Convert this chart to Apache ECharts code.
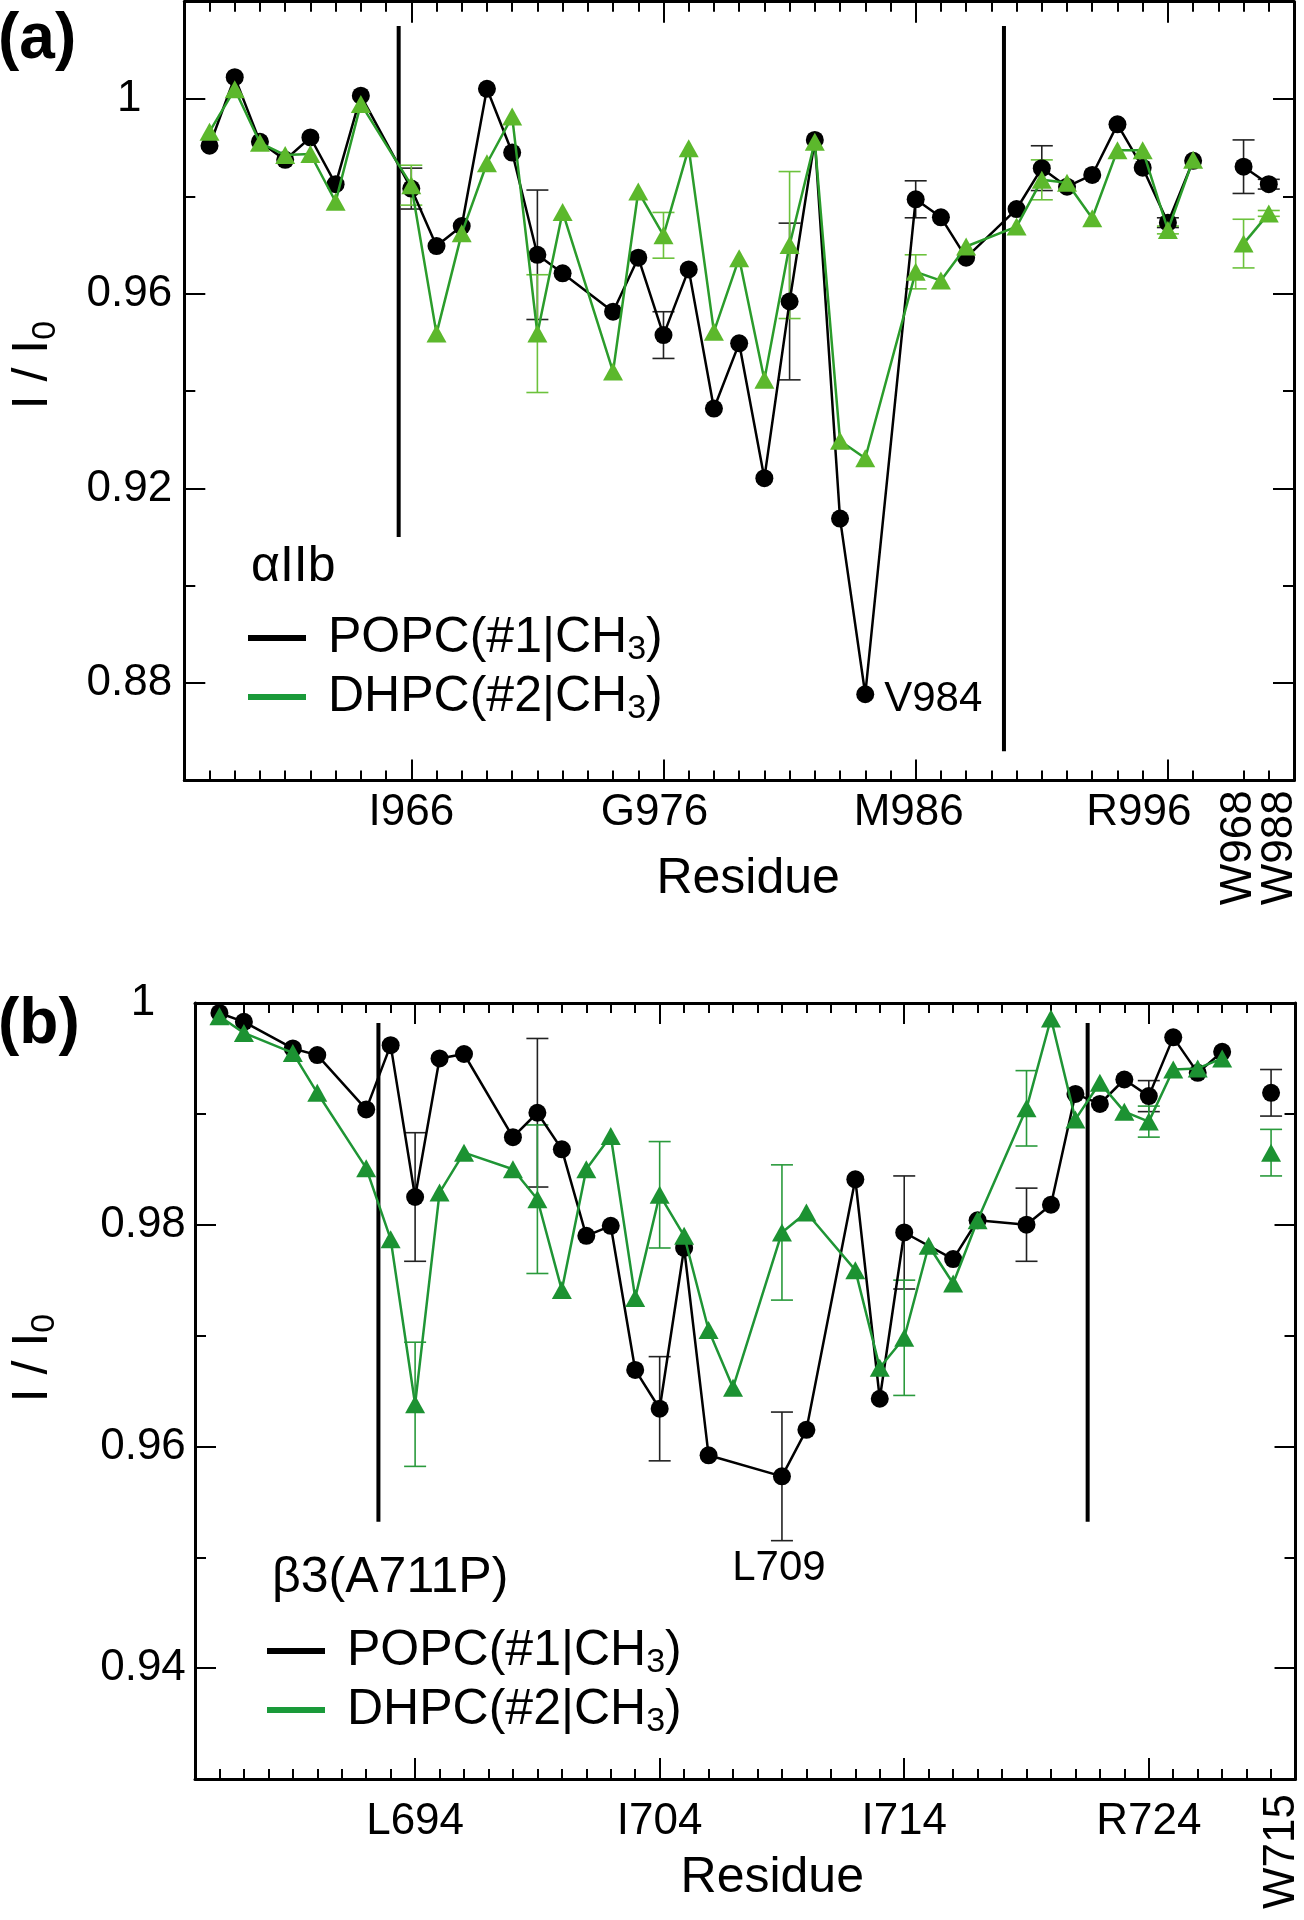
<!DOCTYPE html>
<html><head><meta charset="utf-8">
<script src="https://cdn.jsdelivr.net/npm/echarts@6/dist/echarts.min.js"></script>
<style>html,body{margin:0;padding:0;background:#fff}#c{width:1304px;height:1920px}</style>
</head><body><div id="c"></div>
<script>
// ---------------- DATA ----------------
const seriesNames = ['POPC(#1|CH3)', 'DHPC(#2|CH3)'];

// Panel (a): alphaIIb
const aResidues = [958,959,960,961,962,963,964,966,967,968,969,970,971,972,974,975,976,977,978,979,980,981,982,983,984,986,987,988,990,991,992,993,994,995,996,997];
const aPOPC = [0.9904,1.0045,0.9912,0.9875,0.9921,0.9825,1.0007,0.9816,0.9698,0.9739,1.0021,0.9890,0.9680,0.9642,0.9563,0.9674,0.9515,0.9650,0.9364,0.9498,0.9221,0.9584,0.9916,0.9138,0.8777,0.9794,0.9757,0.9674,0.9774,0.9858,0.9820,0.9844,0.9948,0.9859,0.9746,0.9873];
const aDHPC = [0.9933,1.0020,0.9910,0.9885,0.9887,0.9789,0.9990,0.9823,0.9518,0.9724,0.9868,0.9964,0.9518,0.9768,0.9440,0.9810,0.9720,0.9899,0.9522,0.9673,0.9423,0.9700,0.9912,0.9298,0.9262,0.9645,0.9627,0.9697,0.9738,0.9834,0.9828,0.9755,0.9895,0.9895,0.9731,0.9875];
const aTrpResidues = [999, 1000];
const aTrpNames = ['W968', 'W988'];
const aTrpPOPC = [0.9861, 0.9825];
const aTrpDHPC = [0.9703, 0.9765];
const aErrResidues = [966, 971, 976, 981, 986, 991, 996, 999, 1000];
const aErrPOPC = [0.0042, 0.0133, 0.0048, 0.0161, 0.0038, 0.0046, 0.0010, 0.0055, 0.0010];
const aErrDHPC = [0.0041, 0.0121, 0.0047, 0.0151, 0.0035, 0.0041, 0.0008, 0.0050, 0.0006];
const aTickValues = [966, 976, 986, 996];
const aTickNames = ['I966', 'G976', 'M986', 'R996'];
const aYMajor = [0.88, 0.92, 0.96, 1.00];
const aYMinor = [0.90, 0.94, 0.98];
const aTMLines = [[965.5, 1.015, 0.910], [989.5, 1.015, 0.866]];
const aAnnotation = {residue: 984, text: 'V984'};

// Panel (b): beta3(A711P)
const bResPOPC = [686,687,689,690,692,693,694,695,696,698,699,700,701,702,703,704,705,706,709,710,712,713,714,716,717,719,720,721,722,723,724,725,726,727];
const bPOPC = [0.9991,0.9983,0.9959,0.9953,0.9904,0.9962,0.9825,0.9950,0.9954,0.9879,0.9901,0.9868,0.9790,0.9799,0.9669,0.9634,0.9779,0.9592,0.9573,0.9615,0.9841,0.9643,0.9793,0.9769,0.9804,0.9800,0.9818,0.9918,0.9909,0.9931,0.9916,0.9969,0.9937,0.9956];
const bResDHPC = [686,687,689,690,692,693,694,695,696,698,699,700,701,702,703,704,705,706,707,709,710,712,713,714,715,716,717,719,720,721,722,723,724,725,726,727];
const bDHPC = [0.9988,0.9973,0.9955,0.9919,0.9851,0.9787,0.9638,0.9829,0.9865,0.9850,0.9823,0.9741,0.9850,0.9880,0.9734,0.9827,0.9790,0.9705,0.9653,0.9793,0.9811,0.9759,0.9671,0.9698,0.9781,0.9747,0.9804,0.9905,0.9986,0.9895,0.9928,0.9902,0.9893,0.9940,0.9941,0.9950];
const bTrpResidues = [729];
const bTrpNames = ['W715'];
const bTrpPOPC = [0.9919];
const bTrpDHPC = [0.9865];
const bErrResidues = [694, 699, 704, 709, 714, 719, 724, 729];
const bErrPOPC = [0.0058, 0.0067, 0.0047, 0.0058, 0.0051, 0.0033, 0.0014, 0.0021];
const bErrDHPC = [0.0056, 0.0067, 0.0048, 0.0061, 0.0052, 0.0034, 0.0014, 0.0021];
const bTickValues = [694, 704, 714, 724];
const bTickNames = ['L694', 'I704', 'I714', 'R724'];
const bYMajor = [0.94, 0.96, 0.98, 1.00];
const bYMinor = [0.95, 0.97, 0.99];
const bTMLines = [[692.5, 0.9982, 0.9532], [721.5, 0.9982, 0.9532]];
const bAnnotation = {residue: 709, text: 'L709'};

// ---------------- BUILD ----------------
const FONT = "'Liberation Sans', Arial, Helvetica, sans-serif";
const SUB = {s: {fontSize: 34, padding: [24, 0, 0, 0], fontFamily: FONT, color: '#000'}};
const sub = t => t.replace('CH3', 'CH{s|3}');

const panels = [
  {grid: {left: 184.3, top: 1.7, width: 1109.7, height: 778.7},
   xMin: 957, xMax: 1001, yMin: 0.86, yMax: 1.02, xSkipBottom: [998],
   res: [aResidues, aResidues], vals: [aPOPC, aDHPC],
   trpRes: aTrpResidues, trpNames: aTrpNames, trpVals: [aTrpPOPC, aTrpDHPC],
   trpLabelPad: [[0, 0, 10, 0], [22, 0, 0, 0]],
   tickLabelPadRight: [0, 18, 14, 58],
   errRes: aErrResidues, errs: [aErrPOPC, aErrDHPC],
   ticks: aTickValues, tickNames: aTickNames, yMajor: aYMajor, yMinor: aYMinor,
   tm: aTMLines, annot: aAnnotation,
   annotLabel: {position: 'right', distance: 10, offset: [0, 5]},
   xLabelMargin: 10, trpLabelMargin: 10, yLabelMargin: 55,
   nameGapX: 74, xNamePad: [0, 0, 0, 18], nameGapY: 122, yNamePad: [0, 0, 0, 52],
   green: {line: '#2b9c2b', mark: '#5cb82c', err: '#6cc23c'},
   header: 'αIIb', headerPos: {left: 251, top: 542}, legendPos: {left: 248, top: 609},
   tag: '(a)', tagPos: {left: -2, top: 8}},
  {grid: {left: 191.7, top: 1003, width: 1106.3, height: 776},
   xMin: 685, xMax: 730, yMin: 0.93, yMax: 1.0, xSkipBottom: [],
   res: [bResPOPC, bResDHPC], vals: [bPOPC, bDHPC],
   trpRes: bTrpResidues, trpNames: bTrpNames, trpVals: [bTrpPOPC, bTrpDHPC],
   trpLabelPad: [[22, 0, 0, 0]],
   tickLabelPadRight: [0, 0, 0, 0],
   errRes: bErrResidues, errs: [bErrPOPC, bErrDHPC],
   ticks: bTickValues, tickNames: bTickNames, yMajor: bYMajor, yMinor: bYMinor,
   tm: bTMLines, annot: bAnnotation,
   annotLabel: {position: 'bottom', distance: 62, offset: [-3, 0]},
   xLabelMargin: 21, trpLabelMargin: 15, yLabelMargin: 52,
   nameGapX: 74, xNamePad: [0, 0, 0, 54], nameGapY: 133, yNamePad: [0, 0, 0, 66],
   green: {line: '#1f9535', mark: '#1c9232', err: '#2a9a3c'},
   header: 'β3(A711P)', headerPos: {left: 272, top: 1553}, legendPos: {left: 267, top: 1622},
   tag: '(b)', tagPos: {left: -2, top: 993}}
];

const grids = [], xAxes = [], yAxes = [], series = [], titles = [], legends = [];
const close = (a, b) => Math.abs(a - b) < 1e-6;
const yFmt = v => close(v, 1) ? '1' : v.toFixed(2);

panels.forEach((p, gi) => {
  grids.push(Object.assign({containLabel: false}, p.grid));
  const minorX = [];
  for (let v = p.xMin + 1; v < p.xMax; v++) minorX.push(v);
  const minorXBottom = minorX.filter(v => !p.xSkipBottom.includes(v));
  const xb = {gridIndex: gi, type: 'value', min: p.xMin, max: p.xMax, splitLine: {show: false}};
  const line = {show: true, onZero: false, lineStyle: {color: '#000', width: 3}};
  const noLine = {show: false};
  const tickStyle = {color: '#000', width: 2};
  const tickRich = {};
  p.tickNames.forEach((n, i) => {
    tickRich['t' + i] = {fontSize: 44, fontFamily: FONT, color: '#000', padding: [0, p.tickLabelPadRight[i], 0, 0]};
  });
  const xi = xAxes.length;
  xAxes.push(Object.assign({}, xb, {position: 'bottom', axisLine: line,
    axisTick: {show: true, inside: true, length: 10, lineStyle: tickStyle, customValues: minorXBottom},
    axisLabel: {show: true, customValues: p.ticks,
      formatter: v => { const i = p.ticks.findIndex(t => close(t, v)); return i < 0 ? '' : '{t' + i + '|' + p.tickNames[i] + '}'; },
      rich: tickRich, fontSize: 44, fontFamily: FONT, color: '#000', margin: p.xLabelMargin},
    name: 'Residue', nameLocation: 'middle', nameGap: p.nameGapX,
    nameTextStyle: {fontSize: 50, fontFamily: FONT, color: '#000', padding: p.xNamePad}}));
  xAxes.push(Object.assign({}, xb, {position: 'bottom', axisLine: noLine,
    axisTick: {show: true, inside: true, length: 21, lineStyle: tickStyle, customValues: p.ticks},
    axisLabel: {show: false}}));
  // one axis per rotated Trp label so neighbouring labels are never hidden as overlaps
  p.trpRes.forEach((r, i) => {
    xAxes.push(Object.assign({}, xb, {position: 'bottom', axisLine: noLine, axisTick: {show: false},
      axisLabel: {show: true, customValues: [r], formatter: () => '{w|' + p.trpNames[i] + '}', rotate: 90,
        rich: {w: {fontSize: 44, fontFamily: FONT, color: '#000', padding: p.trpLabelPad[i]}},
        fontSize: 44, fontFamily: FONT, color: '#000', margin: p.trpLabelMargin}}));
  });
  xAxes.push(Object.assign({}, xb, {position: 'top', axisLine: line,
    axisTick: {show: true, inside: true, length: 10, lineStyle: tickStyle, customValues: minorX},
    axisLabel: {show: false}}));
  xAxes.push(Object.assign({}, xb, {position: 'top', axisLine: noLine,
    axisTick: {show: true, inside: true, length: 21, lineStyle: tickStyle, customValues: p.ticks},
    axisLabel: {show: false}}));

  const yb = {gridIndex: gi, type: 'value', min: p.yMin, max: p.yMax, splitLine: {show: false}};
  const yi = yAxes.length;
  yAxes.push(Object.assign({}, yb, {position: 'left', axisLine: line,
    axisTick: {show: true, inside: true, length: 21, lineStyle: tickStyle, customValues: p.yMajor},
    axisLabel: {show: true, customValues: p.yMajor, formatter: yFmt, align: 'center',
      fontSize: 44, fontFamily: FONT, color: '#000', margin: p.yLabelMargin},
    name: 'I / I{s|0}', nameLocation: 'middle', nameGap: p.nameGapY,
    nameTextStyle: {fontSize: 50, fontFamily: FONT, color: '#000', padding: p.yNamePad, rich: SUB}}));
  yAxes.push(Object.assign({}, yb, {position: 'left', axisLine: noLine,
    axisTick: {show: true, inside: true, length: 11, lineStyle: tickStyle, customValues: p.yMinor},
    axisLabel: {show: false}}));
  yAxes.push(Object.assign({}, yb, {position: 'right', axisLine: line,
    axisTick: {show: true, inside: true, length: 21, lineStyle: tickStyle, customValues: p.yMajor},
    axisLabel: {show: false}}));
  yAxes.push(Object.assign({}, yb, {position: 'right', axisLine: noLine,
    axisTick: {show: true, inside: true, length: 11, lineStyle: tickStyle, customValues: p.yMinor},
    axisLabel: {show: false}}));

  // TM boundary lines
  p.tm.forEach(t => series.push({type: 'line', xAxisIndex: xi, yAxisIndex: yi, silent: true, symbol: 'none', z: 1,
    data: [[t[0], t[1]], [t[0], t[2]]], lineStyle: {color: '#000', width: 4}}));

  const colors = [{line: '#000', mark: '#000', err: '#222'}, p.green];
  const symbols = ['circle', 'triangle'];
  const sizes = [18, [20, 18]];
  [0, 1].forEach(k => {
    const res = p.res[k], vals = p.vals[k];
    const data = res.map((r, i) => {
      if (k === 0 && r === p.annot.residue) {
        return {value: [r, vals[i]], label: Object.assign({show: true, formatter: p.annot.text,
          fontSize: 42, fontFamily: FONT, color: '#000'}, p.annotLabel)};
      }
      return [r, vals[i]];
    });
    const common = {xAxisIndex: xi, yAxisIndex: yi, name: seriesNames[k], symbol: symbols[k], symbolSize: sizes[k],
      itemStyle: {color: colors[k].mark}, lineStyle: {color: colors[k].line, width: 2.5}, z: 3 + k};
    series.push(Object.assign({type: 'line', data: data}, common));
    series.push(Object.assign({type: 'line', data: p.trpRes.map((r, i) => [r, p.trpVals[k][i]])}, common));
    // error bars
    const lookup = r => {
      const i = res.indexOf(r);
      if (i >= 0) return vals[i];
      return p.trpVals[k][p.trpRes.indexOf(r)];
    };
    const errColor = colors[k].err;
    series.push({type: 'custom', name: seriesNames[k], xAxisIndex: xi, yAxisIndex: yi, z: 2 + k, silent: true,
      data: p.errRes.map((r, i) => [r, lookup(r), p.errs[k][i]]),
      renderItem: (params, api) => {
        const x = api.value(0), y = api.value(1), e = api.value(2);
        const hi = api.coord([x, y + e]), lo = api.coord([x, y - e]);
        const cw = 11, st = {stroke: errColor, lineWidth: 1.6};
        return {type: 'group', children: [
          {type: 'line', shape: {x1: hi[0], y1: hi[1], x2: lo[0], y2: lo[1]}, style: st},
          {type: 'line', shape: {x1: hi[0] - cw, y1: hi[1], x2: hi[0] + cw, y2: hi[1]}, style: st},
          {type: 'line', shape: {x1: lo[0] - cw, y1: lo[1], x2: lo[0] + cw, y2: lo[1]}, style: st}
        ]};
      }});
  });

  titles.push({text: p.header, left: p.headerPos.left, top: p.headerPos.top, padding: 0,
    textStyle: {fontSize: 50, fontWeight: 'normal', fontFamily: FONT, color: '#000'}});
  titles.push({text: p.tag, left: p.tagPos.left, top: p.tagPos.top, padding: 0,
    textStyle: {fontSize: 64, fontWeight: 'bold', fontFamily: FONT, color: '#000'}});
  legends.push({orient: 'vertical', left: p.legendPos.left, top: p.legendPos.top, padding: 0,
    itemWidth: 58, itemHeight: 6, itemGap: 1, selectedMode: false,
    data: [{name: seriesNames[0], icon: 'rect', itemStyle: {color: '#000'}},
           {name: seriesNames[1], icon: 'rect', itemStyle: {color: '#1a9a3a'}}],
    formatter: sub,
    textStyle: {fontSize: 50, fontFamily: FONT, color: '#000', lineHeight: 58, padding: [0, 0, 0, 17], rich: SUB}});
});

const chart = echarts.init(document.getElementById('c'), null, {renderer: 'canvas'});
chart.setOption({
  animation: false,
  backgroundColor: '#fff',
  title: titles,
  legend: legends,
  grid: grids,
  xAxis: xAxes,
  yAxis: yAxes,
  series: series
});
</script>
</body></html>
